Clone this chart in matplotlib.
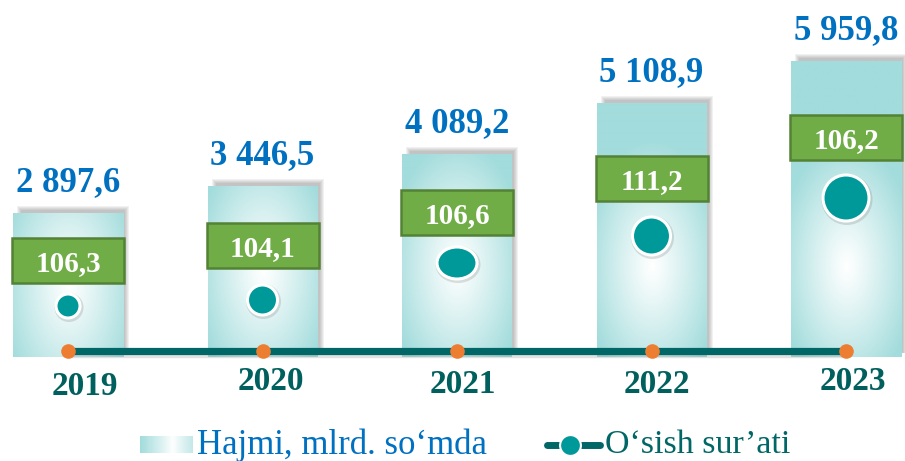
import numpy as np
import matplotlib
matplotlib.use('Agg')
import matplotlib.pyplot as plt
from matplotlib.patches import Rectangle, Ellipse
from matplotlib.colors import to_rgb

# ____________________________ data ____________________________
years = ['2019', '2020', '2021', '2022', '2023']
volume = [2897.6, 3446.5, 4089.2, 5108.9, 5959.8]      # Hajmi, mlrd. so'mda
growth = [106.3, 104.1, 106.6, 111.2, 106.2]           # O'sish sur'ati, %

# ____________________________ layout (pixels) ____________________________
X0, STEP = 68, 194.5          # centre of first bar, distance between bars
Y0, K = 357, 296 / 5959.8     # baseline pixel, pixels per unit
BAR_W = 110
box_drop_px = [47, 60, 59, 75, 77]
dot_y_px = [306, 300, 263, 236, 198]
dot_r_px = [(13, 13), (16, 16), (21, 17), (20, 20), (24, 24)]
year_dx_px = [17, 8, 6, 5, 7]
year_y_px = [386, 381, 384, 384, 381]

BLUE = '#0070C0'
DARK = '#006666'
TEAL = '#009999'
LIGHT = np.array(to_rgb('#A3DCDC'))
SERIF = 'Liberation Serif'


def dx(p):
    return p / STEP


def dy(p):
    return p / K


def px_x(p):
    return (p - X0) / STEP


def px_y(p):
    return (Y0 - p) / K


fig = plt.figure(figsize=(9.05, 4.61), dpi=100)
ax = fig.add_axes([0, 0, 1, 1])
x = np.arange(len(years))

# shadows behind the bars (up and to the right)
for xi, v in zip(x, volume):
    for k in range(5):
        ax.add_patch(Rectangle((xi - dx(BAR_W / 2) + dx(8 - k), dy(4)),
                               dx(BAR_W - 6 + 2 * k), v - dy(4) + dy(3 + k),
                               facecolor='#555555', alpha=0.08, lw=0, zorder=1))

# bars with radial gradient
bars = ax.bar(x, volume, width=dx(BAR_W), facecolor='none', edgecolor='none', zorder=2)
for xi, v, b in zip(x, volume, bars):
    h = int(v * K)
    gx, gy = np.meshgrid(np.arange(BAR_W) - BAR_W / 2, np.arange(h) - min(90, h / 2))
    t = np.clip(np.sqrt((gx / 68) ** 2 + (gy / 125) ** 2), 0, 1) ** 1.1
    img = (1 - t)[..., None] * np.ones(3) + t[..., None] * LIGHT
    im = ax.imshow(img, extent=[xi - dx(BAR_W / 2), xi + dx(BAR_W / 2), 0, v],
                   origin='lower', aspect='auto', zorder=2, interpolation='bilinear')
    im.set_clip_path(b)

# value labels
for xi, v in zip(x, volume):
    lab = f"{v:,.1f}".replace(',', ' ').replace('.', ',')
    ax.text(xi, v + dy(22), lab, ha='center', va='baseline', color=BLUE,
            fontsize=25, fontweight='bold', family=SERIF, zorder=5)

# green boxes with growth rate
for xi, v, g, d in zip(x, volume, growth, box_drop_px):
    cy = v - dy(d)
    ax.add_patch(Rectangle((xi - dx(56), cy - dy(22.5)), dx(112), dy(45),
                           facecolor='#70AD47', edgecolor='#548235', lw=1.8, zorder=4))
    ax.text(xi, cy, f"{g:.1f}".replace('.', ','), ha='center', va='center_baseline',
            color='white', fontsize=21, fontweight='bold', family=SERIF, zorder=5)

# teal dots
for xi, yp, (rx, ry) in zip(x, dot_y_px, dot_r_px):
    ax.add_patch(Ellipse((xi + dx(1), px_y(yp + 1.5)), dx(2 * rx + 3), dy(2 * ry + 3),
                         facecolor='#808080', alpha=0.25, lw=0, zorder=3))
    ax.add_patch(Ellipse((xi, px_y(yp)), dx(2 * rx - 2), dy(2 * ry - 2),
                         facecolor=TEAL, edgecolor='white', lw=2.2, zorder=4))

# bottom line with orange markers
line_y = px_y(351)
ax.plot(x, [line_y - dy(3)] * len(x), color='#888888', lw=6, alpha=0.25, zorder=5,
        solid_capstyle='butt')
ax.plot(x, [line_y] * len(x), color=DARK, lw=5.2, zorder=6, solid_capstyle='butt')
ax.plot(x, [line_y] * len(x), 'o', color='#ED7D31', ms=10.5, mew=0, zorder=7)

# year labels
for xi, yr, ox, yp in zip(x, years, year_dx_px, year_y_px):
    ax.text(xi + dx(ox), px_y(yp), yr, ha='center', va='center', color='#00605E',
            fontsize=24, fontweight='bold', family=SERIF, zorder=5)

# legend
gx = np.linspace(0, 1, 60)
tl = np.clip(np.abs(gx - 0.62) / 0.62, 0, 1) ** 0.9
leg_img = ((1 - tl)[:, None] * np.ones(3) + tl[:, None] * LIGHT)[None, :, :]
ax.imshow(leg_img, extent=[px_x(140), px_x(192), px_y(453), px_y(436)],
          aspect='auto', zorder=5, interpolation='bilinear')
ax.text(px_x(197), px_y(445), 'Hajmi, mlrd. so\u2018mda', ha='left', va='center',
        color=BLUE, fontsize=25, family=SERIF, zorder=5)
ax.plot([px_x(547), px_x(600)], [px_y(445)] * 2, color=DARK, lw=5, solid_capstyle='round',
        zorder=5)
ax.plot([px_x(570)], [px_y(445)], 'o', color=TEAL, ms=15, mec='white', mew=1.5, zorder=6)
ax.text(px_x(605), px_y(445), 'O\u2018sish sur\u2019ati', ha='left', va='center',
        color=DARK, fontsize=24.5, family=SERIF, zorder=5)

ax.set_xlim(px_x(0), px_x(905))
ax.set_ylim(px_y(461), px_y(0))
ax.axis('off')

fig.savefig('out.png', dpi=100)
